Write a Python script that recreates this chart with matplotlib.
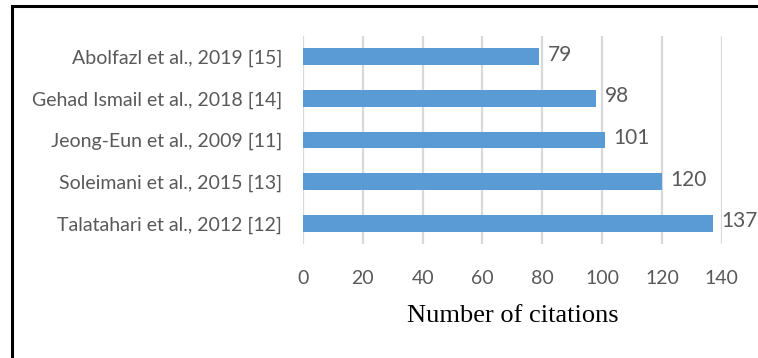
import matplotlib.pyplot as plt
from matplotlib.patches import Rectangle

authors = ['Abolfazl et al., 2019 [15]', 'Gehad Ismail et al., 2018 [14]',
           'Jeong-Eun et al., 2009 [11]', 'Soleimani et al., 2015 [13]',
           'Talatahari et al., 2012 [12]']
citations = [79, 98, 101, 120, 137]
xticks = [0, 20, 40, 60, 80, 100, 120, 140]

grey = '#595959'

fig = plt.figure(figsize=(7.58, 3.58), dpi=100)
ax = fig.add_axes([0.3997, 0.3184, 0.5526, 0.581])

bars = ax.barh(authors, citations, height=0.4, color='#5b9bd5', zorder=2)
ax.invert_yaxis()
ax.set_ylim(4.5, -0.5)
ax.set_xlim(0, 140)
ax.set_xticks(xticks)

for b, v in zip(bars, citations):
    ax.annotate(str(v), (b.get_width(), b.get_y() + b.get_height() / 2),
                xytext=(6, 1.5), textcoords='offset points', va='center',
                ha='left', fontsize=15, color=grey, family='Lato')

ax.grid(axis='x', color='#d9d9d9', linewidth=1.6, zorder=0)
for s in ax.spines.values():
    s.set_visible(False)
ax.tick_params(length=0, labelcolor=grey, labelsize=14)
ax.tick_params(axis='y', pad=15)
ax.tick_params(axis='x', pad=19)
for lab in ax.get_xticklabels() + ax.get_yticklabels():
    lab.set_family('Lato')

ax.set_xlabel('Number of citations', family='Liberation Serif', fontsize=19,
              color='black', labelpad=13)

# frame around the chart (runs off the right and bottom edges)
fig.patches.append(Rectangle((12 / 758, -0.1), 1.2, 1 - 6 / 358 + 0.1,
                             transform=fig.transFigure, fill=False,
                             edgecolor='black', linewidth=2.2))

fig.savefig('out.png', dpi=100)
